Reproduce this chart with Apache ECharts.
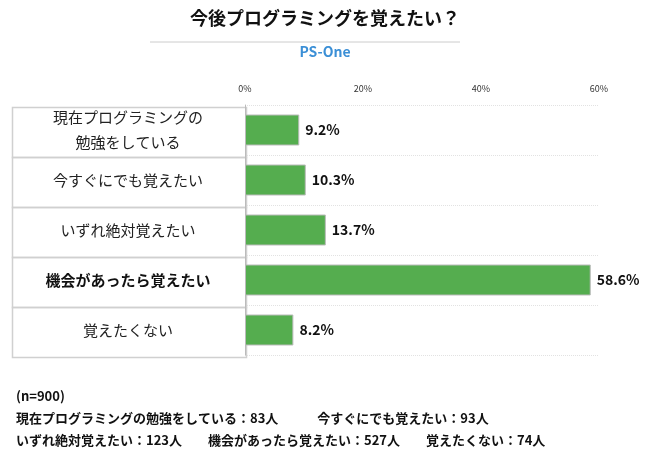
<!DOCTYPE html>
<html>
<head>
  <meta charset="utf-8">
  <script src="https://cdn.jsdelivr.net/npm/echarts@6/dist/echarts.min.js"></script>
  <style>body{margin:0;background:#fff}#graph{width:650px;height:465px}</style>
</head>
<body>
  <div id="graph"></div>
  <script>
    var categories = ['現在プログラミングの\n勉強をしている', '今すぐにでも覚えたい', 'いずれ絶対覚えたい', '機会があったら覚えたい', '覚えたくない'];
    var values = [9.2, 10.3, 13.7, 58.6, 8.2];
    var notes = [
      '(n=900)',
      '現在プログラミングの勉強をしている：83人　　　今すぐにでも覚えたい：93人',
      'いずれ絶対覚えたい：123人　　機会があったら覚えたい：527人　　覚えたくない：74人'
    ];

    var font = '"Noto Sans CJK JP", sans-serif';
    var myChart = echarts.init(document.getElementById('graph'));

    // 左側のカテゴリ枠
    var boxes = [];
    for (var i = 0; i < categories.length; i++) {
      boxes.push({
        type: 'rect', left: 10, top: 105 + i * 50,
        shape: { width: 234, height: 50 },
        style: { fill: 'none', stroke: '#d0d0d0', lineWidth: 1.5 }
      });
    }

    var option = {
      textStyle: { fontFamily: font },
      graphic: boxes.concat([
        { type: 'text', left: 'center', top: 9, style: { text: '今後プログラミングを覚えたい？', font: 'bold 18px ' + font, fill: '#111' } },
        { type: 'line', shape: { x1: 150, y1: 42, x2: 460, y2: 42 }, style: { stroke: '#ccc', lineWidth: 1 } },
        { type: 'text', left: 'center', top: 45, style: { text: 'PS-One', font: 'bold 14px ' + font, fill: '#3b8fd6' } },
        { type: 'text', left: 16, top: 385, style: { text: notes.join('\n'), font: 'bold 13px ' + font, fill: '#111', lineHeight: 22 } }
      ]),
      grid: { left: 245, top: 105, width: 354, height: 250 },
      xAxis: {
        type: 'value', min: 0, max: 60, interval: 20, position: 'top',
        axisLabel: { formatter: '{value}%', fontSize: 9, color: '#333', margin: 12 },
        axisLine: { show: false }, axisTick: { show: false },
        splitLine: { show: false }
      },
      yAxis: {
        type: 'category', inverse: true, data: categories,
        axisLine: { show: true, lineStyle: { color: '#bbb' } },
        axisTick: { show: false },
        splitLine: { show: true, lineStyle: { color: '#e2e2e2', type: 'dotted' } },
        axisLabel: {
          width: 234, align: 'center', margin: 117, lineHeight: 25,
          fontSize: 15, color: '#222',
          formatter: function (v, idx) { return idx === 3 ? '{b|' + v + '}' : v; },
          rich: { b: { fontWeight: 'bold', fontSize: 15, color: '#111' } }
        }
      },
      series: [{
        type: 'bar', barWidth: 31,
        data: values.map(function (v) { return { value: v, label: { formatter: v.toFixed(1) + '%' } }; }),
        itemStyle: { color: '#55ad4f', borderColor: '#bbb', borderWidth: 1 },
        label: {
          show: true, position: 'right',
          fontWeight: 'bold', fontSize: 14, color: '#111', distance: 6
        }
      }]
    };

    myChart.setOption(option);
  </script>
</body>
</html>
